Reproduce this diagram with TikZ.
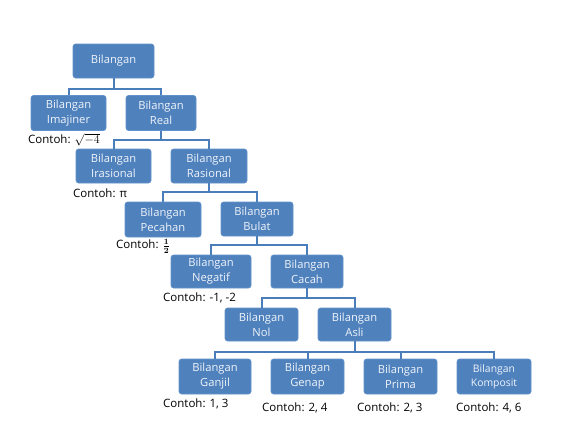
\documentclass[tikz,border=0pt]{standalone}
\usepackage[no-math]{fontspec}
\setmainfont{Open Sans}
\definecolor{boxfill}{RGB}{79,129,189}
\definecolor{boxline}{RGB}{98,146,204}
\definecolor{conn}{RGB}{74,126,187}
\definecolor{boxtext}{RGB}{240,244,250}
\begin{document}
\begin{tikzpicture}[x=1pt,y=-1pt,
  bbox/.style={draw=boxline,line width=0.6pt,fill=boxfill,rounded corners=2.5pt,text=boxtext,
    align=center,inner sep=0pt,font=\fontsize{11.2}{15}\selectfont},
  conline/.style={draw=conn,line width=2pt},
  note/.style={anchor=west,inner sep=0pt,font=\fontsize{11.5}{13}\selectfont,text=black}]
\useasboundingbox (0,0) rectangle (567,426);
\fill[white] (0,0) rectangle (567,426);
% boxes
\node[bbox,minimum width=81pt,minimum height=34pt] (b0) at (113.5,61) {Bilangan};
\node[bbox,minimum width=75pt,minimum height=35pt] (imaj) at (68.5,113) {Bilangan\\Imajiner};
\node[bbox,minimum width=70pt,minimum height=35pt] (real) at (161,113) {Bilangan\\Real};
\node[bbox,minimum width=75pt,minimum height=34pt] (iras) at (113.5,166) {Bilangan\\Irasional};
\node[bbox,minimum width=76pt,minimum height=34pt] (ras) at (209,166) {Bilangan\\Rasional};
\node[bbox,minimum width=76pt,minimum height=35pt] (pec) at (163,219.5) {Bilangan\\Pecahan};
\node[bbox,minimum width=72pt,minimum height=34pt] (bul) at (257,219) {Bilangan\\Bulat};
\node[bbox,minimum width=80pt,minimum height=33pt] (neg) at (211,271.5) {Bilangan\\Negatif};
\node[bbox,minimum width=72pt,minimum height=33pt] (cac) at (307,271.5) {Bilangan\\Cacah};
\node[bbox,minimum width=73pt,minimum height=33pt] (nol) at (261.5,324.5) {Bilangan\\Nol};
\node[bbox,minimum width=73pt,minimum height=33pt] (asli) at (354.5,324.5) {Bilangan\\Asli};
\node[bbox,minimum width=72pt,minimum height=35pt] (ganjil) at (215,376.5) {Bilangan\\Ganjil};
\node[bbox,minimum width=73pt,minimum height=35pt] (genap) at (307.5,376.5) {Bilangan\\Genap};
\node[bbox,minimum width=73pt,minimum height=35pt] (prima) at (400.5,376.5) {Bilangan\\Prima};
\node[bbox,minimum width=74pt,minimum height=35pt,font=\fontsize{10.4}{14}\selectfont] (kompo) at (494,376.5) {Bilangan\\Komposit};
% connectors
\draw[conline] (b0.south) -- ++(0,11) coordinate (j0);
\draw[conline] (imaj.north) |- (j0) -| (real.north);
\draw[conline] (real.south) -- ++(0,9.5) coordinate (j1);
\draw[conline] (iras.north) |- (j1) -| (ras.north);
\draw[conline] (ras.south) -- ++(0,9) coordinate (j2);
\draw[conline] (pec.north) |- (j2) -| (bul.north);
\draw[conline] (bul.south) -- ++(0,9) coordinate (j3);
\draw[conline] (neg.north) |- (j3) -| (cac.north);
\draw[conline] (cac.south) -- ++(0,10) coordinate (j4);
\draw[conline] (nol.north) |- (j4) -| (asli.north);
\draw[conline] (asli.south) -- ++(0,11) coordinate (j5);
\draw[conline] (ganjil.north) |- (j5) -| (kompo.north);
\draw[conline] (genap.north) -- (genap.north |- j5);
\draw[conline] (prima.north) -- (prima.north |- j5);
% notes
\node[note] (n1) at (28,139.5) {Contoh: \(\sqrt{-4}\)};
\node[note] (n2) at (73,193) {Contoh: π};
\node[note] (n3) at (116,246) {Contoh: \(\frac{\mathbf{1}}{\mathbf{2}}\)};
\node[note] (n4) at (163,298) {Contoh: -1, -2};
\node[note] (n5) at (163,404) {Contoh: 1, 3};
\node[note] (n6) at (262,408) {Contoh: 2, 4};
\node[note] (n7) at (357,408) {Contoh: 2, 3};
\node[note] (n8) at (456,408) {Contoh: 4, 6};
\end{tikzpicture}
\end{document}
